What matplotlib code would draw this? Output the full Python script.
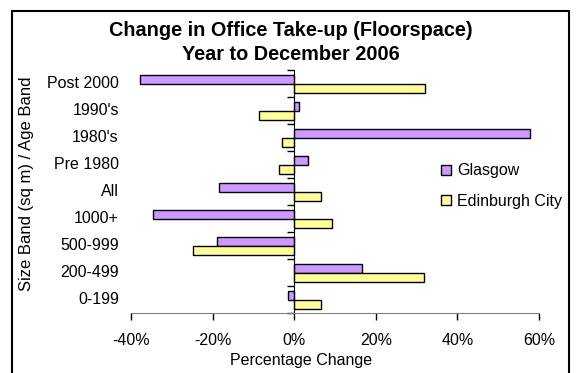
import matplotlib

matplotlib.use("Agg")
import matplotlib.pyplot as plt
from matplotlib.patches import Rectangle
from matplotlib.ticker import FuncFormatter
import numpy as np

plt.rcParams["font.family"] = ["Liberation Sans", "DejaVu Sans"]

# ---------------------------------------------------------------------------
# Data (percentage change, bottom category first)
# ---------------------------------------------------------------------------
categories = ["0-199", "200-499", "500-999", "1000+", "All",
              "Pre 1980", "1980's", "1990's", "Post 2000"]
glasgow = [-1.4, 16.6, -18.8, -34.6, -18.4, 3.3, 57.8, 1.1, -37.8]
edinburgh = [6.6, 31.7, -24.7, 9.2, 6.6, -3.7, -2.9, -8.7, 32.1]
series_names = ["Glasgow", "Edinburgh City"]
x_ticks = [-40, -20, 0, 20, 40, 60]

GLASGOW_COLOR = "#CC99FF"
EDINBURGH_COLOR = "#FFFF99"
FS = 11.5

W, H = 576, 373
fig = plt.figure(figsize=(W / 100, H / 100), dpi=100)
ax = fig.add_axes([131 / W, 1 - 313.3 / H, 408 / W, 243.3 / H])

y = np.arange(len(categories))
h = 0.333
ax.barh(y + h / 2, glasgow, height=h, color=GLASGOW_COLOR,
        edgecolor="black", linewidth=1, label=series_names[0])
ax.barh(y - h / 2, edinburgh, height=h, color=EDINBURGH_COLOR,
        edgecolor="black", linewidth=1, label=series_names[1])

ax.set_xlim(x_ticks[0], x_ticks[-1])
ax.set_ylim(-0.5, len(categories) - 0.5)
ax.set_xticks(x_ticks)
ax.xaxis.set_major_formatter(FuncFormatter(lambda v, _: f"{v:.0f}%"))
ax.tick_params(axis="x", direction="out", length=5, width=1,
               pad=9, labelsize=FS, color="black")

# category axis crosses at zero, labels sit at the far left
ax.spines["left"].set_position(("data", 0))
ax.set_yticks(np.arange(len(categories) + 1) - 0.5)
ax.set_yticklabels([])
ax.tick_params(axis="y", direction="out", length=5, width=1, color="black")
for yi, cat in zip(y, categories):
    ax.text(-0.03, yi, cat, transform=ax.get_yaxis_transform(),
            ha="right", va="center", fontsize=FS)

for side in ("top", "right"):
    ax.spines[side].set_visible(False)
ax.spines["bottom"].set_color("#808080")
ax.spines["left"].set_color("black")

fig.text(291 / W, 1 - 30 / H, "Change in Office Take-up (Floorspace)",
         ha="center", va="center", fontsize=14.3, fontweight="bold")
fig.text(291 / W, 1 - 54 / H, "Year to December 2006",
         ha="center", va="center", fontsize=14.3, fontweight="bold")
fig.text(301 / W, 1 - 360 / H, "Percentage Change",
         ha="center", va="center", fontsize=FS)
fig.text(26.5 / W, 1 - 184 / H, "Size Band (sq m) / Age Band",
         ha="center", va="center", rotation=90, fontsize=12)

fig.legend(loc="center left", bbox_to_anchor=(433 / W, 1 - 186 / H),
           frameon=False, fontsize=FS, borderpad=0, labelspacing=0.95,
           handlelength=0.6, handleheight=0.6, handletextpad=0.4)

# chart frame (runs off the bottom of the image)
fig.add_artist(Rectangle((11.5 / W, -0.05), (569 - 11.5) / W,
                         (1 - 10.5 / H) + 0.05, transform=fig.transFigure,
                         fill=False, edgecolor="black", linewidth=1.5))

fig.savefig("out.png", dpi=100)
